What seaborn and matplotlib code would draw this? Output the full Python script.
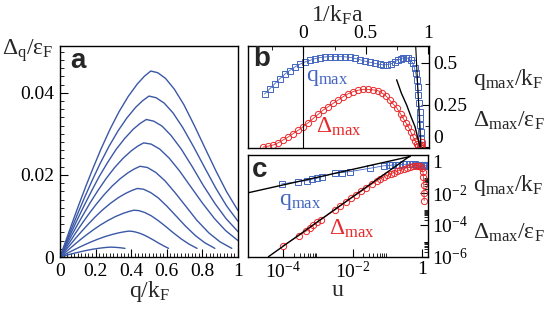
import matplotlib
matplotlib.use("Agg")
import matplotlib.pyplot as plt
import seaborn as sns
import pandas as pd
from matplotlib.ticker import FixedLocator, MultipleLocator, NullFormatter

# ---- panel a : gap vs momentum, one curve per coupling ----
q1 = [0, .031, .066, .102, .143, .184, .230, .281, .332, .383, .434, .474, .51,
      .549, .593, .642, .696, .755, .814, .878, .936, 1.0]
d1 = [0, .00371, .00802, .01228, .01699, .02147, .02627, .03112, .03542, .03909, .04213, .04403, .0453,
      .0449, .0435, .0409, .0371, .0320, .0266, .0208, .0159, .0113]
q2 = [0, .03, .065, .1, .14, .18, .225, .275, .325, .375, .425, .465, .5,
      .54, .585, .635, .69, .75, .81, .875, .935, 1.0]
d2 = [0, .00321, .00694, .01062, .0147, .01858, .02274, .02693, .03065, .03383, .03646, .0381, .0392,
      .0388, .0375, .0351, .0315, .0269, .0220, .0168, .0125, .0087]
q3 = [0, .029, .063, .097, .136, .175, .218, .267, .315, .364, .412, .451, .485,
      .526, .573, .624, .681, .743, .804, .871, .933, 1.0]
d3 = [0, .00275, .00593, .00908, .01256, .01588, .01943, .0230, .0262, .0289, .03116, .03256, .0335,
      .0331, .0319, .0296, .0263, .0220, .0175, .0130, .00934, .0062]
q4 = [0, .028, .061, .094, .132, .169, .212, .259, .306, .353, .40, .437, .47,
      .512, .56, .613, .671, .735, .799, .868, .931, 1.0]
d4 = [0, .00228, .00492, .00753, .01043, .01318, .01612, .0191, .02174, .02399, .02585, .02702, .0278,
      .0275, .0263, .0241, .0210, .0171, .0132, .00935, .00641, .0040]
q5 = [0, .027, .059, .09, .126, .162, .203, .248, .293, .338, .383, .419, .45,
      .491, .538, .589, .646, .708, .769, .836, .898, .965]
d5 = [0, .00181, .00391, .00599, .00829, .01048, .01282, .01518, .01728, .01907, .02055, .02148, .0221,
      .0218, .0206, .0186, .0157, .0123, .00894, .00588, .00372, .0021]
q6 = [0, .026, .057, .087, .122, .157, .196, .239, .283, .326, .37, .405, .435,
      .47, .509, .552, .6, .653, .705, .761, .813, .87]
d6 = [0, .00137, .00296, .00453, .00626, .00792, .00969, .01147, .01306, .01441, .01553, .01623, .0167,
      .0165, .0157, .0144, .0124, .00995, .00753, .0052, .00348, .0021]
q7 = [0, .025, .054, .083, .116, .149, .187, .228, .27, .311, .353, .386, .415,
      .443, .475, .511, .55, .593, .635, .681, .724, .77]
d7 = [0, .00093, .00202, .00309, .00428, .0054, .00661, .00783, .00891, .00984, .0106, .01108, .0114,
      .0113, .01086, .01008, .00893, .00747, .00595, .0044, .00316, .0021]
q8 = [0, .023, .05, .077, .108, .139, .173, .212, .25, .289, .327, .358, .385,
      .403, .423, .446, .471, .498, .525, .554, .581, .61]
d8 = [0, .00052, .00112, .00171, .00236, .00299, .00365, .00433, .00493, .00544, .00586, .00612, .0063,
      .00626, .0061, .00581, .00538, .00479, .00413, .00339, .00274, .0021]
q9 = [0, .017, .036, .056, .078, .101, .126, .154, .182, .21, .238, .26, .28, .31, .34, .365]
d9 = [0, .0002, .00042, .00065, .0009, .00114, .00139, .00165, .00188, .00207, .00223, .00233, .0024,
      .00236, .00225, .0021]

# ---- panel b : q_max and Delta_max vs 1/kFa ----
qb_x = [-0.31, -0.27, -0.23, -0.19, -0.15, -0.11, -0.07, -0.03, 0.01, 0.05, 0.09, 0.13, 0.17, 0.21,
        0.25, 0.29, 0.33, 0.37, 0.41, 0.45, 0.49, 0.53, 0.57, 0.61, 0.64, 0.67, 0.70, 0.73, 0.76,
        0.78, 0.80, 0.82, 0.84, 0.86, 0.875, 0.89, 0.90, 0.91, 0.915, 0.92, 0.925, 0.93, 0.933,
        0.936, 0.939, 0.942, 0.945]
qb_y = [0.315, 0.345, 0.375, 0.405, 0.432, 0.455, 0.475, 0.492, 0.505, 0.515, 0.525, 0.532, 0.536,
        0.538, 0.538, 0.538, 0.537, 0.534, 0.528, 0.52, 0.512, 0.505, 0.498, 0.492, 0.489, 0.49,
        0.495, 0.505, 0.518, 0.525, 0.53, 0.532, 0.528, 0.515, 0.50, 0.47, 0.44, 0.40, 0.36, 0.31,
        0.26, 0.21, 0.17, 0.13, 0.09, 0.05, 0.01]
db_x = [-0.32, -0.28, -0.24, -0.20, -0.16, -0.12, -0.08, -0.04, 0.0, 0.04, 0.08, 0.12, 0.16, 0.20,
        0.24, 0.28, 0.32, 0.36, 0.40, 0.44, 0.48, 0.52, 0.56, 0.60, 0.63, 0.66, 0.69, 0.72, 0.75,
        0.78, 0.80, 0.82, 0.84, 0.86, 0.88, 0.895, 0.91, 0.92, 0.93, 0.94, 0.947, 0.952]
db_y = [0.0, 0.005, 0.012, 0.025, 0.042, 0.06, 0.08, 0.10, 0.121, 0.145, 0.17, 0.195, 0.22, 0.24,
        0.26, 0.28, 0.30, 0.317, 0.33, 0.338, 0.343, 0.343, 0.34, 0.335, 0.322, 0.305, 0.28, 0.255,
        0.23, 0.195, 0.17, 0.145, 0.12, 0.09, 0.06, 0.038, 0.018, 0.005, 0.0, 0.004, 0.012, 0.03]
fitb1_x = [0.747, 0.785, 0.827, 0.862, 0.894, 0.934]
fitb1_y = [0.40, 0.32, 0.25, 0.18, 0.121, 0.0]
fitb2_x = [0.899, 0.94]
fitb2_y = [0.61, 0.0]

# ---- panel c : same quantities vs u, log-log ----
qc_u = [8.9e-5, 2.7e-4, 4.8e-4, 6.6e-4, 9.3e-4, 1.3e-3, 3.1e-3, 4.9e-3, 8.5e-3, 0.032, 0.078, 0.112,
        0.141, 0.178, 0.224, 0.282, 0.355, 0.447, 0.537, 0.631, 0.741, 0.851, 0.955, 1.047, 1.148,
        1.23, 1.318, 1.38]
qc_v = [0.039, 0.055, 0.063, 0.078, 0.089, 0.112, 0.186, 0.204, 0.234, 0.38, 0.537, 0.575, 0.603,
        0.631, 0.646, 0.661, 0.676, 0.676, 0.676, 0.661, 0.631, 0.603, 0.575, 0.55, 0.537, 0.55,
        0.575, 0.631]
dc_u = [9.5e-5, 2.8e-4, 4.6e-4, 5.9e-4, 7.4e-4, 9.5e-4, 1.2e-3, 3.1e-3, 4.4e-3, 6.3e-3, 8.9e-3,
        0.0126, 0.0178, 0.0251, 0.0355, 0.0501, 0.0631, 0.0794, 0.1, 0.126, 0.158, 0.19, 0.24, 0.302,
        0.38, 0.468, 0.562, 0.661, 0.776, 0.891, 1.0, 1.07, 1.11, 1.135, 1.148, 1.16]
dc_v = [4.9e-6, 2.1e-5, 4.2e-5, 6.8e-5, 1.0e-4, 1.5e-4, 2.1e-4, 8.9e-4, 1.6e-3, 2.8e-3, 4.8e-3,
        7.9e-3, 0.0132, 0.0224, 0.0372, 0.0603, 0.0832, 0.11, 0.138, 0.17, 0.204, 0.24, 0.295, 0.355,
        0.417, 0.479, 0.537, 0.562, 0.55, 0.49, 0.38, 0.224, 0.1, 0.0316, 0.01, 0.0035]
fitq_u = [1e-5, 0.46]
fitq_v = [0.011, 2.1]
fitd_u = [3.7e-5, 0.46]
fitd_v = [1.0e-6, 2.3]

LINE_BLUE = "#3b58a6"
BLUE = "#4466c0"
RED = "#e8282a"

sns.set_theme(style="white")
plt.rcParams["font.family"] = ["Liberation Serif", "DejaVu Serif"]
plt.rcParams.update({
    "mathtext.fontset": "custom",
    "mathtext.rm": "Liberation Serif",
    "mathtext.it": "Liberation Serif",
    "mathtext.bf": "Liberation Serif:bold",
    "axes.edgecolor": "black",
    "axes.linewidth": 1.0,
    "xtick.color": "black",
    "ytick.color": "black",
})

W, H = 545, 310
fig = plt.figure(figsize=(W / 100, H / 100), dpi=100)


def px(x, y):
    return x / W, 1 - y / H


ax_a = fig.add_axes([60 / W, 1 - 257 / H, 178 / W, 211 / H])
ax_b = fig.add_axes([248.3 / W, 1 - 148.3 / H, 180.7 / W, 102.6 / H])
ax_c = fig.add_axes([248 / W, 1 - 256.7 / H, 180 / W, 101.7 / H])

# panel a
frames = []
for i, (qq, dd) in enumerate([(q1, d1), (q2, d2), (q3, d3), (q4, d4), (q5, d5),
                              (q6, d6), (q7, d7), (q8, d8), (q9, d9)]):
    frames.append(pd.DataFrame({"q": qq, "gap": dd, "curve": i}))
df_a = pd.concat(frames, ignore_index=True)
sns.lineplot(data=df_a, x="q", y="gap", units="curve", estimator=None, sort=False,
             color=LINE_BLUE, lw=1.0, ax=ax_a)
ax_a.set_xlim(0, 1)
ax_a.set_ylim(0, 0.0514)
ax_a.xaxis.set_major_locator(FixedLocator([0, 0.2, 0.4, 0.6, 0.8, 1.0]))
ax_a.set_xticklabels(["0", "0.2", "0.4", "0.6", "0.8", "1"])
ax_a.xaxis.set_minor_locator(MultipleLocator(0.02))
ax_a.yaxis.set_major_locator(FixedLocator([0, 0.02, 0.04]))
ax_a.set_yticklabels(["0", "0.02", "0.04"])
ax_a.yaxis.set_minor_locator(MultipleLocator(0.002))
ax_a.tick_params(which="both", direction="in", bottom=True, left=True, top=False, right=False,
                 labelsize=14, pad=4)
ax_a.tick_params(which="major", length=6, width=0.8)
ax_a.tick_params(which="minor", length=3, width=0.6)
ax_a.set_xlabel("")
ax_a.set_ylabel("")

# panel b
mk = dict(mfc="none", lw=0.6, mew=0.7)
sns.lineplot(x=qb_x, y=qb_y, sort=False, estimator=None, color=BLUE, marker="s", ms=4,
             mec=BLUE, ax=ax_b, **mk)
sns.lineplot(x=db_x, y=db_y, sort=False, estimator=None, color=RED, marker="o", ms=4.5,
             mec=RED, ax=ax_b, **mk)
sns.lineplot(x=fitb1_x, y=fitb1_y, sort=False, estimator=None, color="black", lw=1.0, ax=ax_b)
sns.lineplot(x=fitb2_x, y=fitb2_y, sort=False, estimator=None, color="black", lw=0.8, ax=ax_b)
ax_b.axvline(0, color="black", lw=0.8)
ax_b.set_xlim(-0.44, 1.006)
ax_b.set_ylim(-0.008, 0.603)
ax_b.xaxis.tick_top()
ax_b.yaxis.tick_right()
ax_b.xaxis.set_major_locator(FixedLocator([0, 0.5, 1.0]))
ax_b.set_xticklabels(["0", "0.5", "1"])
ax_b.xaxis.set_minor_locator(MultipleLocator(0.25))
ax_b.yaxis.set_major_locator(FixedLocator([0, 0.25, 0.5]))
ax_b.set_yticklabels(["0", "0.25", "0.5"])
ax_b.yaxis.set_minor_locator(MultipleLocator(0.125))
ax_b.tick_params(which="both", direction="in", top=True, right=True, bottom=False, left=False,
                 labeltop=True, labelright=True, labelbottom=False, labelleft=False,
                 labelsize=14, pad=3)
ax_b.tick_params(which="major", length=6, width=0.8)
ax_b.tick_params(which="minor", length=3, width=0.6)
ax_b.get_yticklabels()[0].set_va("bottom")
ax_b.set_xlabel("")
ax_b.set_ylabel("")

# panel c
sns.lineplot(x=qc_u, y=qc_v, sort=False, estimator=None, color=BLUE, marker="s", ms=4,
             mec=BLUE, ax=ax_c, **mk)
sns.lineplot(x=dc_u, y=dc_v, sort=False, estimator=None, color=RED, marker="o", ms=4.5,
             mec=RED, ax=ax_c, **mk)
sns.lineplot(x=fitq_u, y=fitq_v, sort=False, estimator=None, color="black", lw=1.0, ax=ax_c)
sns.lineplot(x=fitd_u, y=fitd_v, sort=False, estimator=None, color="black", lw=1.0, ax=ax_c)
ax_c.set_xscale("log")
ax_c.set_yscale("log")
ax_c.set_xlim(9.5e-6, 1.5)
ax_c.set_ylim(1e-6, 2.6)
ax_c.xaxis.set_major_locator(FixedLocator([1e-4, 1e-2, 1.0]))
ax_c.set_xticklabels([r"$\mathrm{10^{-4}}$", r"$\mathrm{10^{-2}}$", "1"])
ax_c.xaxis.set_minor_locator(FixedLocator([k * 10.0 ** e for e in (-4, -2) for k in range(2, 10)]))
ax_c.xaxis.set_minor_formatter(NullFormatter())
ax_c.yaxis.tick_right()
ax_c.yaxis.set_major_locator(FixedLocator([1e-6, 1e-4, 1e-2, 1.0]))
ax_c.set_yticklabels([r"$\mathrm{10^{-6}}$", r"$\mathrm{10^{-4}}$", r"$\mathrm{10^{-2}}$", "1"])
ax_c.yaxis.set_minor_locator(FixedLocator([k * 10.0 ** e for e in (-6, -4, -2) for k in range(2, 10)]))
ax_c.yaxis.set_minor_formatter(NullFormatter())
ax_c.tick_params(which="both", direction="in", bottom=True, right=True, top=False, left=False,
                 labelbottom=True, labelright=True, labelleft=False, labelsize=14, pad=3)
ax_c.tick_params(which="major", length=6, width=0.8)
ax_c.tick_params(which="minor", length=3, width=0.6)
ax_c.set_xlabel("")
ax_c.set_ylabel("")

# labels and annotations
lab = 17
fig.text(*px(28, 51), r"$\mathrm{\Delta_q/\varepsilon_F}$", fontsize=lab, ha="center", va="center")
fig.text(*px(150, 291), r"$\mathrm{q/k_F}$", fontsize=lab, ha="center", va="center")
fig.text(*px(338, 290), r"$\mathrm{u}$", fontsize=lab, ha="center", va="center")
fig.text(*px(337, 15), r"$\mathrm{1/k_Fa}$", fontsize=lab, ha="center", va="center")
for y, s in [(80, r"$\mathrm{q_{max}/k_F}$"), (121, r"$\mathrm{\Delta_{max}/\varepsilon_F}$"),
             (185, r"$\mathrm{q_{max}/k_F}$"), (233, r"$\mathrm{\Delta_{max}/\varepsilon_F}$")]:
    fig.text(*px(473, y), s, fontsize=lab, ha="left", va="center")

fig.text(*px(327, 77), r"$\mathrm{q_{max}}$", fontsize=lab, color=BLUE, ha="center", va="center")
fig.text(*px(339, 127), r"$\mathrm{\Delta_{max}}$", fontsize=lab, color=RED, ha="center", va="center")
fig.text(*px(300, 201), r"$\mathrm{q_{max}}$", fontsize=lab, color=BLUE, ha="center", va="center")
fig.text(*px(352, 229), r"$\mathrm{\Delta_{max}}$", fontsize=lab, color=RED, ha="center", va="center")

for (x, y), s in [((78, 61), "a"), ((262, 59), "b"), ((260, 170), "c")]:
    fig.text(*px(x, y), s, fontsize=20, fontweight="bold", family="Liberation Sans",
             ha="center", va="center")

fig.savefig("out.png", dpi=100)
